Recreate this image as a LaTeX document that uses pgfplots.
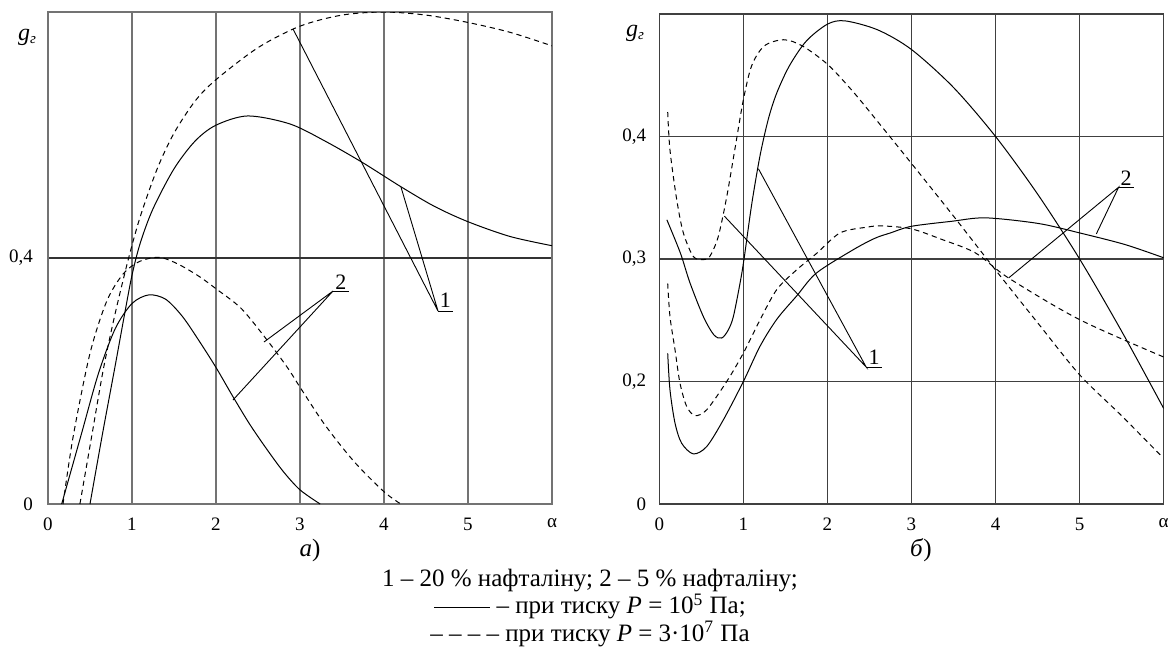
\documentclass[border=0pt]{standalone}
\usepackage{fontspec}
\setmainfont{Liberation Serif}
\usepackage{pgfplots}
\pgfplotsset{compat=1.18}
\pgfplotsset{
  panel/.style={
    scale only axis, anchor=south west,
    xmin=0, xmax=6,
    xtick={0,1,2,3,4,5,6}, xticklabels={0,1,2,3,4,5,α},
    major tick length=0pt,
    tick label style={font=\fontsize{9.5}{11}\selectfont},
    xticklabel style={yshift=-3.5pt},
    xmajorgrids, ymajorgrids,
    clip=true,
  },
  c/.style={black, line width=0.5pt, smooth},
  d/.style={black, line width=0.5pt, smooth, dash pattern=on 2.6pt off 2pt},
}
\tikzset{lead/.style={black, line width=0.45pt}}
\begin{document}
\begin{tikzpicture}[x=1pt,y=1pt]
\path[use as bounding box] (0,0) rectangle (587.5,333);

% ---------- panel a ----------
\begin{axis}[panel, at={(24pt,81pt)}, width=252pt, height=246pt,
  ymin=0, ymax=0.8, ytick={0,0.4}, yticklabels={0,{0,4}},
  yticklabel style={xshift=-4pt},
  axis line style={draw=black!55, line width=0.7pt},
  major x grid style={draw=black!55, line width=0.7pt},
  major y grid style={draw=black!80, line width=0.6pt}]
% 1 - 20 %, P = 10^5
\addplot[c] coordinates {(0.5,0) (0.65,0.115) (0.8,0.225) (0.9,0.30) (1.0,0.372) (1.1,0.425) (1.25,0.48) (1.5,0.545) (1.75,0.59) (2.0,0.616) (2.38,0.631) (2.88,0.618) (3.3,0.590) (3.735,0.556) (4.2,0.516) (4.6,0.484) (5.0,0.459) (5.5,0.435) (6.0,0.42)};
% 1 - 20 %, P = 3e7
\addplot[d] coordinates {(0.38,0) (0.52,0.11) (0.66,0.22) (0.8,0.31) (0.96,0.40) (1.1,0.468) (1.3,0.545) (1.5,0.603) (1.75,0.655) (2.0,0.69) (2.5,0.742) (3.0,0.777) (3.5,0.795) (4.0,0.80) (4.5,0.795) (5.0,0.783) (5.5,0.767) (6.0,0.745)};
% 2 - 5 %, P = 10^5
\addplot[c] coordinates {(0.163,0) (0.4,0.115) (0.6,0.212) (0.8,0.285) (1.0,0.326) (1.2,0.340) (1.4,0.333) (1.6,0.305) (1.8,0.265) (2.0,0.222) (2.2,0.175) (2.4,0.13) (2.6,0.09) (2.8,0.053) (3.0,0.023) (3.24,0)};
% 2 - 5 %, P = 3e7
\addplot[d] coordinates {(0.179,0) (0.3,0.11) (0.5,0.245) (0.7,0.33) (0.9,0.375) (1.1,0.395) (1.33,0.401) (1.55,0.39) (1.8,0.37) (2.0,0.35) (2.3,0.318) (2.6,0.268) (2.85,0.222) (3.0,0.19) (3.3,0.128) (3.65,0.068) (4.0,0.02) (4.2,0)};
\draw[lead] (axis cs:2.917,0.7724) -- (axis cs:4.643,0.3138) -- (axis cs:4.202,0.5154);
\draw[lead] (axis cs:4.643,0.3138) -- (axis cs:4.821,0.3138);
\node[anchor=base, inner sep=0pt, font=\fontsize{11}{13}\selectfont] at (axis cs:4.73,0.3195) {1};
\draw[lead] (axis cs:2.571,0.2634) -- (axis cs:3.393,0.3463) -- (axis cs:2.202,0.1691);
\draw[lead] (axis cs:3.393,0.3463) -- (axis cs:3.583,0.3463);
\node[anchor=base, inner sep=0pt, font=\fontsize{11}{13}\selectfont] at (axis cs:3.488,0.3496) {2};
\end{axis}

% ---------- panel b ----------
\begin{axis}[panel, at={(329.65pt,81pt)}, width=252.2pt, height=245pt,
  ymin=0.1, ymax=0.5, ytick={0.1,0.2,0.3,0.4}, yticklabels={0,{0,2},{0,3},{0,4}},
  yticklabel style={xshift=-3pt},
  axis line style={draw=black!75, line width=0.6pt},
  major grid style={draw=black!75, line width=0.6pt}]
% 1 - 20 %, P = 10^5
\addplot[c] coordinates {(0.09,0.332) (0.25,0.305) (0.365,0.2805) (0.524,0.253) (0.65,0.238) (0.743,0.2355) (0.82,0.242) (0.881,0.253) (0.961,0.2805) (1.008,0.30) (1.1,0.345) (1.2,0.385) (1.3,0.415) (1.4,0.436) (1.55,0.458) (1.75,0.478) (2.0,0.4917) (2.21,0.4944) (2.6,0.487) (3.0,0.471) (3.5,0.440) (4.0,0.400) (4.5,0.353) (5.0,0.300) (5.5,0.241) (6.0,0.178)};
% 1 - 20 %, P = 3e7
\addplot[d] coordinates {(0.1,0.42) (0.127,0.389) (0.207,0.3486) (0.286,0.3213) (0.405,0.302) (0.524,0.2995) (0.6,0.302) (0.7,0.318) (0.8,0.35) (0.9,0.39) (1.0,0.43) (1.1,0.458) (1.25,0.474) (1.48,0.479) (1.7,0.474) (2.0,0.459) (2.3,0.437) (2.6,0.412) (3.0,0.378) (3.5,0.335) (4.0,0.291) (4.5,0.248) (5.0,0.2055) (5.5,0.172) (5.96,0.14)};
% 2 - 5 %, P = 3e7
\addplot[d] coordinates {(0.1,0.28) (0.127,0.253) (0.187,0.2259) (0.246,0.1987) (0.326,0.1796) (0.425,0.1722) (0.564,0.1769) (0.802,0.20) (1.0,0.2232) (1.199,0.2504) (1.397,0.275) (1.636,0.2913) (1.87,0.3045) (2.15,0.3213) (2.47,0.326) (2.65,0.327) (3.0,0.3246) (3.36,0.316) (3.76,0.305) (4.155,0.2845) (5.0,0.2505) (6.0,0.22)};
% 2 - 5 %, P = 10^5
\addplot[c] coordinates {(0.1,0.223) (0.127,0.1932) (0.187,0.166) (0.266,0.1496) (0.405,0.1409) (0.564,0.1469) (0.762,0.1687) (1.0,0.2) (1.2,0.229) (1.4,0.251) (1.636,0.270) (1.87,0.2886) (2.31,0.3077) (2.567,0.317) (2.75,0.3213) (3.0,0.3267) (3.48,0.3308) (3.88,0.3336) (4.51,0.329) (5.0,0.3213) (5.54,0.3118) (6.0,0.301)};
\draw[lead] (axis cs:1.179,0.3737) -- (axis cs:2.461,0.2118) -- (axis cs:0.774,0.335);
\draw[lead] (axis cs:2.461,0.2118) -- (axis cs:2.648,0.2118);
\node[anchor=base, inner sep=0pt, font=\fontsize{11}{13}\selectfont] at (axis cs:2.554,0.2137) {1};
\draw[lead] (axis cs:5.199,0.3205) -- (axis cs:5.464,0.3586) -- (axis cs:4.155,0.2845);
\draw[lead] (axis cs:5.464,0.3586) -- (axis cs:5.643,0.3586);
\node[anchor=base, inner sep=0pt, font=\fontsize{11}{13}\selectfont] at (axis cs:5.552,0.3604) {2};
\end{axis}

% ---------- labels ----------
\node[font=\fontsize{12}{14}\selectfont] at (13.5,314.5) {\textit{g}\raisebox{-0.35ex}{\fontsize{7.5}{8}\selectfont\textit{г}}};
\node[font=\fontsize{12}{14}\selectfont] at (317.5,316.5) {\textit{g}\raisebox{-0.35ex}{\fontsize{7.5}{8}\selectfont\textit{г}}};
\node[font=\fontsize{12.5}{14}\selectfont] at (155,58) {\textit{а})};
\node[font=\fontsize{12.5}{14}\selectfont] at (460.5,58) {\textit{б})};
\node[align=center, font=\fontsize{12.5}{12.5}\selectfont, anchor=center] at (295,29)
  {1 – 20~\% нафталіну; 2 – 5~\% нафталіну;\\
   \rule[0.55ex]{28pt}{0.4pt} – при тиску \textit{P} = 10\textsuperscript{5} Па;\\
   – – – – при тиску \textit{P} = 3·10\textsuperscript{7} Па};
\end{tikzpicture}
\end{document}
